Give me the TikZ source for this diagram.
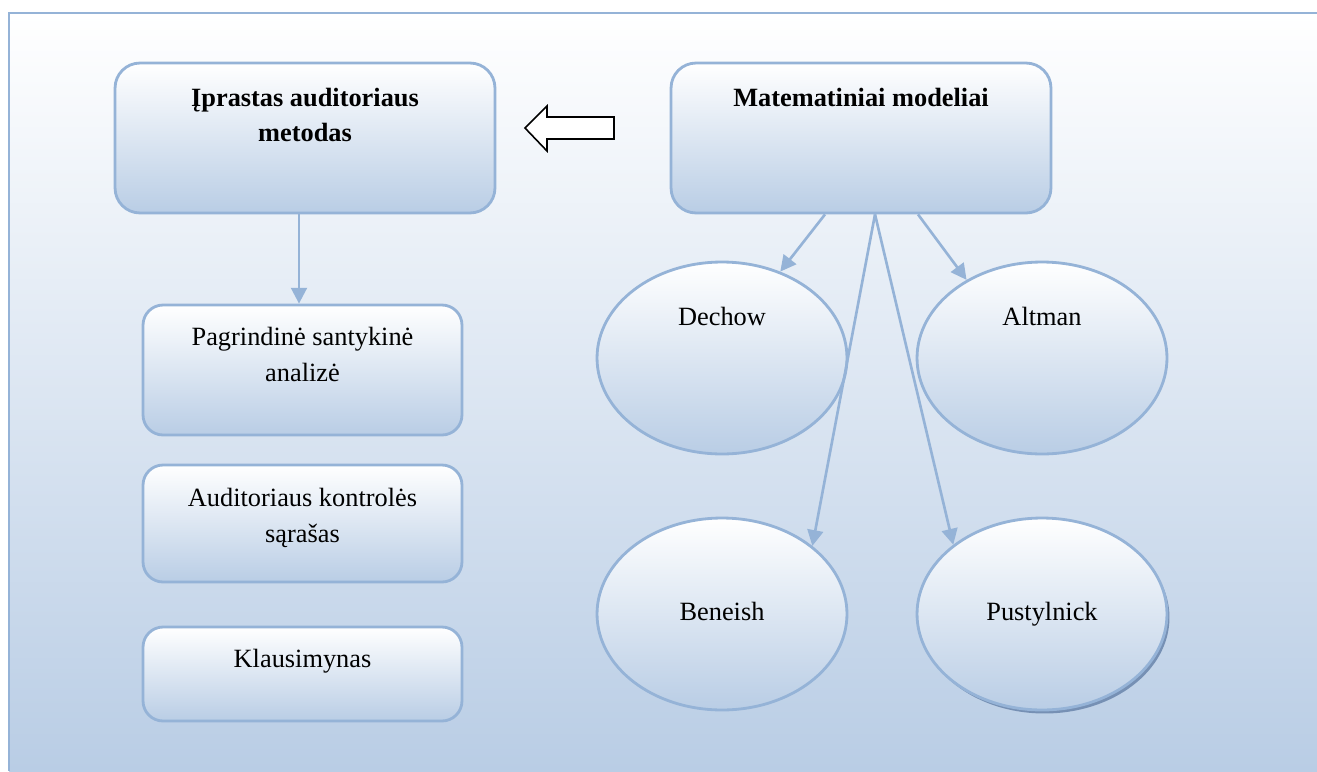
\documentclass[tikz,border=0pt]{standalone}
\usepackage{fontspec}
\setmainfont{Liberation Serif}
\usetikzlibrary{arrows.meta,calc,shadows,shapes.geometric}
\definecolor{bordc}{RGB}{149,179,215}
\definecolor{fillc}{RGB}{185,205,229}
\definecolor{shadc}{RGB}{118,144,180}
\begin{document}
\begin{tikzpicture}[x=0.02cm,y=-0.02cm,
  txt/.style={font=\fontsize{15pt}{20pt}\selectfont, align=center, inner sep=0pt, anchor=base},
  btxt/.style={txt, font=\fontsize{15pt}{19.5pt}\selectfont\bfseries},
  boxbase/.style={draw=bordc, line width=1.6pt, top color=white, bottom color=fillc, inner sep=0pt},
  bigbox/.style={boxbase, rounded corners=0.5cm, minimum width=7.6cm, minimum height=3cm},
  smallbox/.style={boxbase, rounded corners=0.4cm, minimum width=6.38cm},
  oval/.style={boxbase, ellipse, minimum width=5cm, minimum height=3.84cm},
  conn/.style={draw=bordc, line width=1.5pt, -{Triangle[length=9pt,width=9pt]}}]
\useasboundingbox (0,0) rectangle (1317,771);
\fill[top color=white, bottom color=fillc] (9,13) rectangle (1317,771);
\draw[bordc, line width=1.2pt] (9,771) -- (9,13) -- (1317,13);

% top boxes
\node[bigbox] (A) at (305,138) {};
\node[btxt] (At) at (305,141) {Įprastas auditoriaus\\metodas};
\node[bigbox] (M) at (861,138) {};
\node[btxt] (Mt) at (861,106) {Matematiniai modeliai};

% hollow arrow
\draw[black, line width=0.9pt, fill=white, line join=miter]
  (525,128) -- (547,106) -- (547,117) -- (614,117) -- (614,139) -- (547,139) -- (547,151) -- cycle;

% left boxes
\node[smallbox, minimum height=2.6cm] (P) at (302.5,370) {};
\node[txt] (Pt) at (302.5,381) {Pagrindinė santykinė\\analizė};
\node[smallbox, minimum height=2.34cm] (S) at (302.5,523.5) {};
\node[txt] (St) at (302.5,542) {Auditoriaus kontrolės\\sąrašas};
\node[smallbox, minimum height=1.88cm] (K) at (302.5,674) {};
\node[txt] (Kt) at (302.5,667) {Klausimynas};

% ellipses
\node[oval] (D) at (722,358) {};
\node[txt] (Dt) at (722,325) {Dechow};
\node[oval] (Al) at (1042,358) {};
\node[txt] (Alt) at (1042,325) {Altman};
\node[oval] (B) at (722,614) {};
\node[txt] (Bt) at (722,620) {Beneish};
\node[oval, drop shadow={shadow xshift=0.05cm, shadow yshift=-0.07cm, fill=shadc, opacity=1}] (Pu) at (1042,614) {};
\node[txt] (Put) at (1042,620) {Pustylnick};

% connectors
\coordinate (m1) at ($(M.south)+(-36,0)$);
\coordinate (m2) at ($(M.south)+(14,0)$);
\coordinate (m3) at ($(M.south)+(57,0)$);
\draw[conn] (m1) -- (D.56);
\draw[conn] (m2) -- (B.37);
\draw[conn] (m2) -- (Pu.142);
\draw[conn] (m3) -- (Al.134);
\draw[conn] ($(A.south)+(-6,0)$) -- ($(A.south |- P.north)+(-6,0)$);
\end{tikzpicture}
\end{document}
